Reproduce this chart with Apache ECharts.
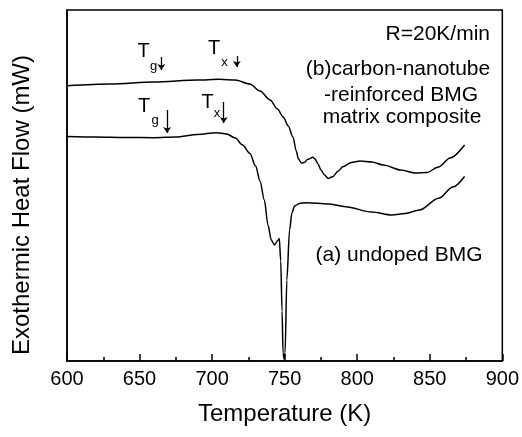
<!DOCTYPE html>
<html>
<head>
<meta charset="utf-8">
<script src="https://cdn.jsdelivr.net/npm/echarts@6/dist/echarts.min.js"></script>
<style>
  html, body { margin: 0; padding: 0; background: #fff; }
  #main { width: 522px; height: 437px; }
</style>
</head>
<body>
<div id="main"></div>
<script>
// (a) undoped BMG
var tempA = [600, 620, 640, 660, 675, 690, 703, 710, 716, 721, 726, 730, 733, 736, 738.5, 740.8, 743, 745, 746.3,
  747.3, 748.2, 748.9, 749.6, 750.3, 751.5, 753.4, 755, 756.8, 760.3, 765, 780, 792, 810, 824, 833, 843, 856, 866, 874]
var heatA = [224.5, 224, 223.5, 223.3, 224, 226.5, 228.3, 227, 223, 216, 207.7, 195, 180, 161, 136, 121, 116, 120, 122.5,
  100, 50, 8, 2, 8, 81, 131, 148, 155, 157.5, 158.3, 157, 154.3, 149, 146, 147.5, 151, 162.7, 174, 184.5]
// (b) carbon-nanotube-reinforced BMG matrix composite
var tempB = [600, 630, 660, 690, 705, 716, 726, 733, 740, 745, 749, 752.5, 755.7, 758, 759.5, 761.5, 763.5, 766, 769.4,
  771, 773, 775, 777.5, 780, 783, 787, 790, 796, 802, 810, 818, 830, 840, 848, 856, 864, 874]
var heatB = [275.3, 277, 279, 281, 281.7, 281, 277, 270, 261, 252, 244, 235, 224, 210, 202, 198, 198.5, 201.7, 203.7,
  202, 197, 191, 186, 182.5, 184.3, 190, 194.3, 198.5, 200, 199, 196, 191, 188, 188.5, 194, 203, 216]
// Tg / Tx arrows: temperature, arrow top, arrow tip
var arrowT = [665, 717, 669, 708]
var arrowTop = [304, 305, 251, 259]
var arrowTip = [291, 294, 228, 238]

var font = 'Liberation Sans, Arial, sans-serif'

function pairs(xs, ys) {
  return xs.map(function (x, i) { return [x, ys[i]] })
}

var arrows = arrowT.map(function (t, i) {
  return [{ coord: [t, arrowTop[i]] }, { coord: [t, arrowTip[i]] }]
})

function txt(x, y, s, size, align) {
  return {
    type: 'text', x: x, y: y,
    style: { text: s, fontSize: size, fontFamily: font, fill: '#000', align: align || 'center', verticalAlign: 'middle' }
  }
}

var myChart = echarts.init(document.getElementById('main'))
var option = {
  animation: false,
  grid: { left: 67, right: 19, top: 10, bottom: 76, show: true, borderColor: '#000', borderWidth: 1.5 },
  xAxis: {
    type: 'value', min: 600, max: 900, interval: 50,
    name: 'Temperature (K)', nameLocation: 'middle', nameGap: 41,
    nameTextStyle: { fontSize: 24, fontFamily: font, color: '#000' },
    axisLine: { lineStyle: { color: '#000', width: 1.5 } },
    axisTick: { inside: true, length: 7, lineStyle: { color: '#000', width: 1.5 } },
    minorTick: { show: true, splitNumber: 2, length: 4, lineStyle: { color: '#000', width: 1.5 } },
    axisLabel: { fontSize: 20, fontFamily: font, color: '#000', margin: 8 },
    splitLine: { show: false }
  },
  yAxis: {
    type: 'value', min: 0, max: 351,
    axisLine: { show: true, lineStyle: { color: '#000', width: 1.5 } },
    axisTick: { show: false },
    axisLabel: { show: false },
    splitLine: { show: false }
  },
  series: [
    {
      type: 'line', data: pairs(tempA, heatA), showSymbol: false, smooth: 0.3, smoothMonotone: 'x',
      lineStyle: { color: '#000', width: 1.5 },
      markLine: {
        silent: true, symbol: ['none', 'arrow'], symbolSize: 6,
        label: { show: false },
        lineStyle: { color: '#000', width: 1.3, type: 'solid' },
        data: arrows
      }
    },
    {
      type: 'line', data: pairs(tempB, heatB), showSymbol: false, smooth: 0.3, smoothMonotone: 'x',
      lineStyle: { color: '#000', width: 1.5 }
    }
  ],
  graphic: [
    {
      type: 'text', x: 22, y: 205, rotation: Math.PI / 2,
      style: { text: 'Exothermic Heat Flow (mW)', fontSize: 24, fontFamily: font, fill: '#000', align: 'center', verticalAlign: 'middle' }
    },
    txt(490, 34, 'R=20K/min', 21, 'right'),
    txt(398, 69, '(b)carbon-nanotube', 21),
    txt(401, 95, '-reinforced BMG', 21),
    txt(402, 117, 'matrix composite', 21),
    txt(399, 255, '(a) undoped BMG', 21),
    txt(143.5, 51, 'T', 20), txt(153.5, 66, 'g', 13),
    txt(214, 48.5, 'T', 20), txt(224.5, 62, 'x', 13),
    txt(144, 106, 'T', 20), txt(155, 120, 'g', 13),
    txt(207.5, 102.5, 'T', 20), txt(217, 113.5, 'x', 13)
  ]
}
myChart.setOption(option)
</script>
</body>
</html>
